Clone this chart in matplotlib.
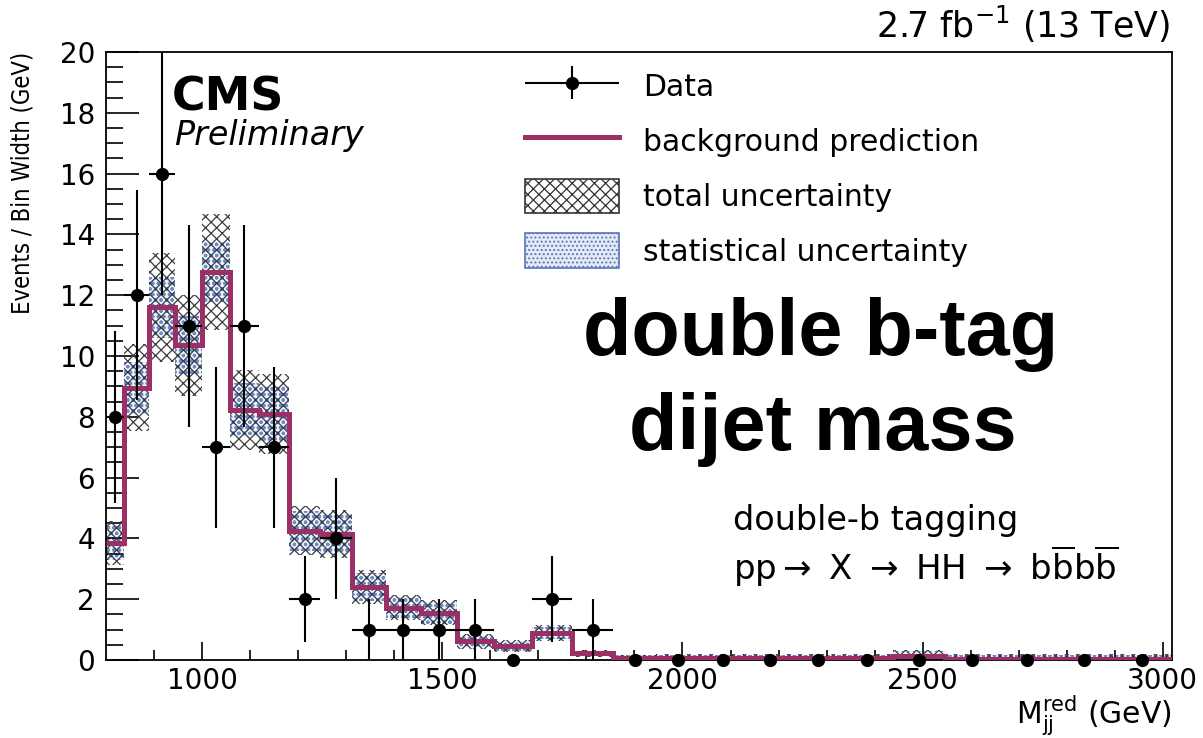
import numpy as np
import matplotlib.pyplot as plt
from matplotlib import font_manager
from matplotlib.patches import Patch
from matplotlib.lines import Line2D
from matplotlib.container import ErrorbarContainer
from matplotlib.legend_handler import HandlerErrorbar

plt.rcParams['hatch.linewidth'] = 0.9
plt.rcParams['font.family'] = 'DejaVu Sans'

# bin edges of the reduced dijet mass (GeV)
edges = [800, 838, 890, 944, 1000, 1058, 1118, 1181, 1246, 1313, 1383, 1455,
         1530, 1607, 1687, 1770, 1856, 1945, 2037, 2132, 2231, 2332, 2438,
         2546, 2659, 2775, 2895, 3019]

# observed events per bin and their error
data = [8, 12, 16, 11, 7, 11, 7, 2, 4, 1, 1, 1, 1, 0, 2, 1,
        0, 0, 0, 0, 0, 0, 0, 0, 0, 0, 0]
data_err = [2.83, 3.46, 4.0, 3.32, 2.65, 3.32, 2.65, 1.41, 2.0, 1.0, 1.0, 1.0,
            1.0, 0, 1.41, 1.0, 0, 0, 0, 0, 0, 0, 0, 0, 0, 0, 0]

# background prediction and uncertainties (half widths)
bkg = [3.85, 8.95, 11.6, 10.35, 12.77, 8.22, 8.1, 4.25, 4.15, 2.4, 1.72, 1.55,
       0.62, 0.46, 0.88, 0.22, 0.07, 0.05, 0.05, 0.05, 0.05, 0.05, 0.12,
       0.04, 0.04, 0.04, 0.04]
tot_unc = [0.72, 1.43, 1.8, 1.65, 1.9, 1.32, 1.32, 0.8, 0.8, 0.55, 0.42, 0.41,
           0.25, 0.2, 0.26, 0.12, 0.1, 0.15, 0.15, 0.15, 0.15, 0.15, 0.2,
           0.15, 0.15, 0.15, 0.15]
stat_unc = [0.55, 0.85, 1.0, 0.95, 0.98, 0.9, 0.9, 0.65, 0.65, 0.45, 0.35, 0.35,
            0.2, 0.16, 0.2, 0.09, 0.08, 0.12, 0.12, 0.12, 0.12, 0.12, 0.16,
            0.12, 0.12, 0.12, 0.12]

edges = np.array(edges, dtype=float)
data = np.array(data, dtype=float)
data_err = np.array(data_err)
bkg = np.array(bkg)
tot_unc = np.array(tot_unc)
stat_unc = np.array(stat_unc)
centers = 0.5 * (edges[1:] + edges[:-1])
widths = np.diff(edges)

pink = '#9c2f66'
hatch_grey = '#3c3c3c'
stat_blue = '#6a8ad0'

# a narrow sans font for the y label, if one is installed
narrow = None
for f in font_manager.fontManager.ttflist:
    if ('Narrow' in f.name or 'Condensed' in f.name or 'condensed' in str(f.stretch)) \
            and 'Mono' not in f.name and 'Serif' not in f.name and f.weight in (400, 'normal', 'regular') \
            and f.style == 'normal':
        narrow = f.fname
        break
if narrow:
    ylab_kw = dict(fontproperties=font_manager.FontProperties(fname=narrow, size=17))
else:
    ylab_kw = dict(family='Liberation Sans', fontsize=16.5)

fig = plt.figure(figsize=(12.03, 7.38), dpi=100)
ax = fig.add_axes([106 / 1203, 78 / 738, 1066 / 1203, 608 / 738])

# statistical band
ax.bar(edges[:-1], 2 * stat_unc, width=widths, bottom=bkg - stat_unc, align='edge',
       facecolor='#eef2fb', edgecolor=stat_blue, hatch='ooo', linewidth=0, zorder=1)
# total band
ax.bar(edges[:-1], 2 * tot_unc, width=widths, bottom=bkg - tot_unc, align='edge',
       fill=False, edgecolor=hatch_grey, hatch='xxx', linewidth=0, zorder=2)
ax.stairs(bkg, edges, color=pink, linewidth=3.6, baseline=None, zorder=3)

nz = data > 0
cont = ax.errorbar(centers[nz], data[nz], yerr=data_err[nz], xerr=widths[nz] / 2,
                   fmt='o', color='black', ms=8.5, elinewidth=1.5, capsize=0, zorder=5)
ax.plot(centers[~nz], data[~nz], 'o', color='black', ms=8.5, clip_on=False, zorder=5)

ax.set_xlim(800, 3019)
ax.set_ylim(0, 20)
ax.set_xticks([1000, 1500, 2000, 2500, 3000])
ax.set_xticks(np.arange(900, 3001, 100), minor=True)
ax.set_yticks(np.arange(0, 21, 2))
ax.set_yticks(np.arange(0, 20.1, 0.5), minor=True)
ax.tick_params(axis='both', which='both', direction='in', top=False, right=False,
               labelsize=20, width=1.2)
ax.tick_params(axis='y', which='major', length=24, pad=8)
ax.tick_params(axis='y', which='minor', length=12)
ax.tick_params(axis='x', which='major', length=13, pad=5)
ax.tick_params(axis='x', which='minor', length=7)
for s in ax.spines.values():
    s.set_linewidth(1.3)

ax.set_ylabel('Events / Bin Width (GeV)', loc='top', labelpad=18, **ylab_kw)
ax.text(1.0, -0.104, r'M$_{\rm jj}^{\rm red}$ (GeV)', transform=ax.transAxes,
        ha='right', va='baseline', fontsize=21.5)
fig.text(1170 / 1203, (738 - 38) / 738, r'2.7 fb$^{-1}$ (13 TeV)', ha='right',
         va='baseline', fontsize=25)

ax.text(0.062, 0.962, 'CMS', transform=ax.transAxes, ha='left', va='top',
        fontsize=33, fontweight='bold')
ax.text(0.064, 0.89, 'Preliminary', transform=ax.transAxes, ha='left', va='top',
        fontsize=24, style='italic')

ax.text(0.67, 0.502, 'double b-tag', transform=ax.transAxes, ha='center',
        va='baseline', fontsize=57, fontweight='bold', family='Liberation Sans')
ax.text(0.672, 0.345, 'dijet mass', transform=ax.transAxes, ha='center',
        va='baseline', fontsize=57, fontweight='bold', family='Liberation Sans')

ax.text(0.588, 0.214, 'double-b tagging', transform=ax.transAxes, ha='left',
        va='baseline', fontsize=24)
ax.text(0.588, 0.132,
        r'pp$\rightarrow$ X $\rightarrow$ HH $\rightarrow$ b$\overline{\rm b}$b$\overline{\rm b}$',
        transform=ax.transAxes, ha='left', va='baseline', fontsize=24.5)

line_h = Line2D([], [], color=pink, linewidth=3.6)
tot_h = Patch(facecolor='white', edgecolor='#333333', hatch='xxx', linewidth=1.2)
stat_h = Patch(facecolor='#e3eaf8', edgecolor='#5a74b8', hatch='....', linewidth=1.2)
ax.legend([cont, line_h, tot_h, stat_h],
          ['Data', 'background prediction', 'total uncertainty', 'statistical uncertainty'],
          loc='upper left', bbox_to_anchor=(0.393, 0.972), frameon=False, fontsize=21.5,
          handlelength=3.15, handleheight=1.4, handletextpad=0.8, labelspacing=0.68,
          borderpad=0, borderaxespad=0,
          handler_map={ErrorbarContainer: HandlerErrorbar(xerr_size=1.58, yerr_size=0.55)})

fig.savefig('out.png', dpi=100)
